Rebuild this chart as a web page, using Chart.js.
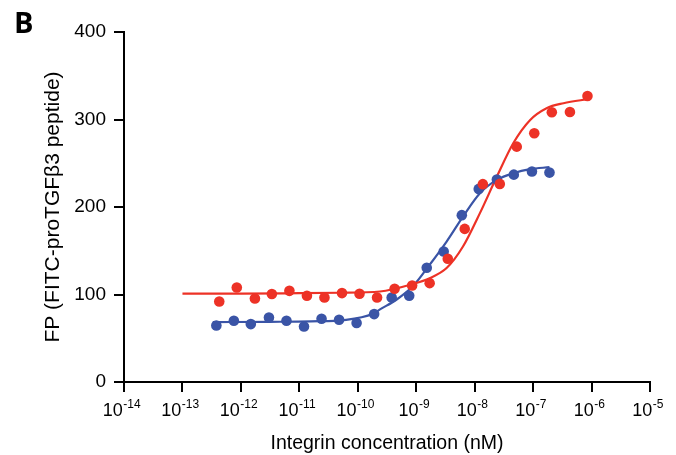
<!DOCTYPE html>
<html>
<head>
<meta charset="utf-8">
<script src="https://cdn.jsdelivr.net/npm/chart.js@4"></script>
<style>
  html, body { margin: 0; padding: 0; background: #fff; }
  #wrap { width: 676px; height: 455px; position: relative; }
</style>
</head>
<body>
<div id="wrap"><canvas id="c" width="676" height="455"></canvas></div>
<script>
// ---- Data (x = log10 of integrin concentration in nM) ----
const redPointsX = [-12.37, -12.07, -11.76, -11.47, -11.17, -10.87, -10.57, -10.27, -9.97, -9.67, -9.37, -9.07, -8.77, -8.46, -8.17, -7.86, -7.57, -7.28, -6.98, -6.68, -6.37, -6.07];
const redPointsY = [92, 108, 95.5, 100.5, 104.2, 98.5, 96.6, 101.6, 100.8, 96.6, 106.5, 110.3, 113, 140.8, 175, 226.1, 226.4, 269, 284.3, 308.3, 308.6, 326.9];

const bluePointsX = [-12.42, -12.12, -11.83, -11.52, -11.22, -10.92, -10.62, -10.32, -10.02, -9.72, -9.42, -9.12, -8.82, -8.53, -8.22, -7.93, -7.62, -7.33, -7.02, -6.72];
const bluePointsY = [64.6, 70, 66.2, 73.8, 70, 63.5, 72.3, 71.1, 67.4, 77.6, 96.6, 98.5, 130.5, 149.1, 190.7, 220.7, 231.3, 237, 240.5, 239.3];

// fitted curves
const redCurveX = [-13.0, -12.0, -11.0, -10.3, -9.62, -9.05, -8.77, -8.48, -8.2, -7.91, -7.62, -7.34, -7.05, -6.77, -6.48, -6.04];
const redCurveY = [101, 101, 101.5, 102, 103.4, 112.2, 118.7, 130.2, 154.8, 193, 234.8, 272.9, 299.5, 312.9, 318.6, 323.5];

const blueCurveX = [-12.48, -11.5, -10.8, -10.2, -9.74, -9.62, -9.34, -9.05, -8.77, -8.48, -8.2, -7.91, -7.62, -7.34, -7.05, -6.72];
const blueCurveY = [68.5, 68.8, 69.3, 71, 78, 83, 94, 110, 134, 160.5, 189, 215.8, 231, 238.5, 243.2, 245.5];

const xTickExponents = [-14, -13, -12, -11, -10, -9, -8, -7, -6, -5];
const yTicks = [0, 100, 200, 300, 400];

const xTitle = 'Integrin concentration (nM)';
const yTitle = 'FP (FITC-proTGFβ3 peptide)';
const panelLabel = 'B';

// ---- styles ----
const RED = 'rgb(237,50,38)';
const BLUE = 'rgb(58,84,166)';
const FONT = '"Liberation Sans", Arial, Helvetica, sans-serif';

const zip = (xs, ys) => xs.map((x, i) => ({ x: x, y: ys[i] }));

const customText = {
  id: 'customText',
  afterDraw(chart) {
    const ctx = chart.ctx;
    const xs = chart.scales.x;
    ctx.save();
    ctx.fillStyle = '#000';
    ctx.textBaseline = 'alphabetic';
    ctx.textAlign = 'left';
    xTickExponents.forEach(e => {
      const px = xs.getPixelForValue(e);
      ctx.font = '18px ' + FONT;
      const w1 = ctx.measureText('10').width;
      ctx.font = '12px ' + FONT;
      const ex = String(e);
      const w2 = ctx.measureText(ex).width;
      const start = px - (w1 + w2) / 2 - 2.5;
      ctx.font = '18px ' + FONT;
      ctx.fillText('10', start, xs.top + 33.5);
      ctx.font = '12px ' + FONT;
      ctx.fillText(ex, start + w1 + 0.5, xs.top + 25.5);
    });
    ctx.font = 'bold 29px "Open Sans", "DejaVu Sans", sans-serif';
    ctx.fillText(panelLabel, 14, 33);
    ctx.restore();
  }
};

new Chart(document.getElementById('c'), {
  type: 'scatter',
  data: {
    datasets: [
      { label: 'red points', data: zip(redPointsX, redPointsY), backgroundColor: RED, borderColor: RED,
        pointRadius: 5.3, pointBorderWidth: 0, showLine: false },
      { label: 'blue points', data: zip(bluePointsX, bluePointsY), backgroundColor: BLUE, borderColor: BLUE,
        pointRadius: 5.3, pointBorderWidth: 0, showLine: false },
      { label: 'red fit', data: zip(redCurveX, redCurveY), borderColor: RED, borderWidth: 2.2,
        pointRadius: 0, showLine: true, cubicInterpolationMode: 'monotone', fill: false },
      { label: 'blue fit', data: zip(blueCurveX, blueCurveY), borderColor: BLUE, borderWidth: 2.2,
        pointRadius: 0, showLine: true, cubicInterpolationMode: 'monotone', fill: false }
    ]
  },
  options: {
    responsive: false,
    animation: false,
    devicePixelRatio: 1,
    layout: { padding: { left: 0, right: 26, top: 32, bottom: 0 } },
    plugins: { legend: { display: false }, tooltip: { enabled: false } },
    scales: {
      x: {
        type: 'linear',
        min: -14, max: -5,
        afterBuildTicks: s => { s.ticks = xTickExponents.map(v => ({ value: v })); },
        afterFit: s => { s.height = 73; },
        ticks: { callback: () => '', font: { size: 18, family: FONT } },
        grid: { drawOnChartArea: false, drawTicks: true, tickLength: 10, color: '#000', lineWidth: 2 },
        border: { display: true, color: '#000', width: 2 },
        title: { display: true, text: xTitle, color: '#000', font: { size: 19.5, family: FONT },
                 padding: { top: 7, bottom: 0 } }
      },
      y: {
        type: 'linear',
        min: 0, max: 400,
        afterBuildTicks: s => { s.ticks = yTicks.map(v => ({ value: v })); },
        afterFit: s => { s.width = 124; },
        ticks: { color: '#000', padding: 8, font: { size: 19, family: FONT } },
        grid: { drawOnChartArea: false, drawTicks: true, tickLength: 10, color: '#000', lineWidth: 2 },
        border: { display: true, color: '#000', width: 2 },
        title: { display: true, text: yTitle, color: '#000', font: { size: 21, family: FONT },
                 padding: { top: 41, bottom: 0 } }
      }
    }
  },
  plugins: [customText]
});
</script>
</body>
</html>
